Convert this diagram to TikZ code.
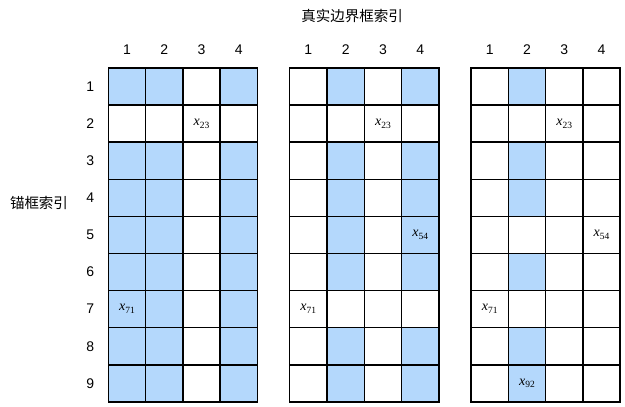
\documentclass[tikz,border=0pt]{standalone}
\usepackage{fontspec}
\setmainfont{Liberation Sans}
\newfontfamily\cjkfont{Noto Sans CJK SC}
\newfontfamily\timesfont{Liberation Serif}
\usetikzlibrary{positioning,backgrounds}
\definecolor{cellblue}{RGB}{180,216,252}

\begin{document}
\begin{tikzpicture}[x=1pt,y=1pt,
      cell/.style={
         draw=black,
         line width=1.5pt,
         minimum width=37.3pt,
         minimum height=37.1pt,
         inner sep=0pt,
         outer sep=0pt},
      cell_blue/.style={
         fill=cellblue},
      idx_label/.style={
         inner sep=0pt,
         font=\fontsize{14}{14}\selectfont},
      var_label/.style={
         inner sep=0pt,
         font=\timesfont\fontsize{14}{14}\selectfont},
      axis_title/.style={
         inner sep=0pt,
         font=\cjkfont\fontsize{14.5}{14.5}\selectfont}
]
      \useasboundingbox (0,0) rectangle (625,407);

      %grids
      \foreach \g/\gx in {1/108.3, 2/289.7, 3/471.0} {
        \foreach \r in {1,...,9}
          \foreach \c in {1,...,4}
            \node[cell] (g\g-\r-\c) at ({\gx+(\c-0.5)*37.3}, {339-(\r-0.5)*37.1}) {};
        % column indices
        \foreach \c in {1,...,4}
          \node[idx_label,above=13pt of g\g-1-\c] (col\g-\c) {\c};
      }

      % row indices
      \foreach \r in {1,...,9}
        \node[idx_label,left=14pt of g1-\r-1] (row\r) {\r};

      % shaded cells
      \begin{scope}[on background layer]
        \foreach \g/\rows/\cols in {% grid/rows/columns
          1/{1,3,4,5,6,7,8,9}/{1,2,4},
          2/{1,3,4,5,6,8,9}/{2,4},
          3/{1,3,4,6,8,9}/{2}}
          \foreach \r in \rows
            \foreach \c in \cols
              \fill[cell_blue] (g\g-\r-\c.south west) rectangle (g\g-\r-\c.north east);
      \end{scope}

      % entries
      \foreach \g/\r/\c/\txt in {% grid/row/column/subscript
        1/2/3/23, 1/7/1/71,
        2/2/3/23, 2/5/4/54, 2/7/1/71,
        3/2/3/23, 3/5/4/54, 3/7/1/71, 3/9/2/92}
        \node[var_label] (x\g-\txt) at (g\g-\r-\c) {\textit{x}\raisebox{-0.45ex}{\fontsize{9.5}{9.5}\selectfont\txt}};

      % titles
      \node[axis_title] (gt) at (352,391) {真实边界框索引};
      \node[axis_title] (anchor) at (39,204) {锚框索引};
\end{tikzpicture}
\end{document}
